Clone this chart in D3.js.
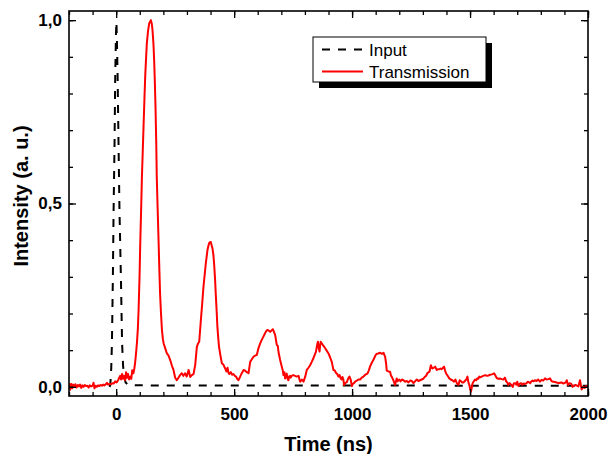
<!DOCTYPE html>
<html>
<head>
<meta charset="utf-8">
<script src="https://cdn.jsdelivr.net/npm/d3@7"></script>
<style>
  body { margin: 0; background: #fff; }
  svg { display: block; font-family: "Liberation Sans", Arial, sans-serif; }
</style>
</head>
<body>
<div id="chart"></div>
<script>
// Data -----------------------------------------------------------------------------------------------------------
const xMajorTicks = [0, 500, 1000, 1500, 2000];
const yMajorTicks = [0, 0.5, 1.0];
const yTickLabels = ["0,0", "0,5", "1,0"];
const seriesNames = ["Input", "Transmission"];

// [time (ns), intensity]
const inputPoints = [
  [-28, 0.0], [-25, 0.005], [-21, 0.05], [-18, 0.12], [-14, 0.30], [-11, 0.48], [-7, 0.66], [-4, 0.85],
  [-1, 0.96], [1, 0.995], [3, 0.95], [6, 0.85], [10, 0.66], [14, 0.48], [20, 0.30], [25, 0.12], [29, 0.06],
  [33, 0.03], [40, 0.012], [51, 0.005], [80, 0.004], [2000, 0.003]
];

const transmissionPoints = [
  [-198, 0.01], [-195, -0.008], [-190, 0.008], [-186, -0.004], [-182, 0.006], [-178, 0.0], [-173, 0.007],
  [-168, -0.002], [-163, 0.005], [-158, 0.001], [-153, 0.006], [-148, -0.003], [-143, 0.004], [-138, 0.0],
  [-133, 0.005], [-128, 0.002], [-122, 0.003], [-117, -0.002], [-112, 0.004], [-106, 0.001], [-100, 0.003],
  [-96, 0.011], [-92, -0.004], [-87, 0.003], [-82, 0.0], [-77, 0.004], [-72, 0.002], [-66, 0.005], [-60, 0.003],
  [-55, 0.006], [-50, 0.004], [-44, 0.007], [-39, 0.011], [-34, 0.006], [-28, 0.008], [-22, 0.007], [-16, 0.01],
  [-10, 0.009], [-4, 0.015], [2, 0.012], [8, 0.018], [14, 0.026], [17, 0.03], [21, 0.02], [25, 0.035], [29, 0.022],
  [33, 0.03], [38, 0.018], [42, 0.04], [46, 0.025], [50, 0.035], [55, 0.02], [60, 0.028], [64, 0.022], [68, 0.045],
  [73, 0.037], [77, 0.05], [80, 0.064], [84, 0.09], [88, 0.12], [92, 0.16], [95, 0.21], [99, 0.30], [102, 0.39],
  [106, 0.49], [109, 0.57], [113, 0.65], [116, 0.71], [120, 0.79], [123, 0.846], [127, 0.9], [130, 0.937],
  [135, 0.97], [140, 0.991], [147, 1.0], [151, 0.99], [154, 0.973], [158, 0.935], [161, 0.89], [164, 0.83],
  [167, 0.755], [170, 0.66], [172, 0.573], [176, 0.48], [180, 0.39], [183, 0.32], [186, 0.255], [190, 0.2],
  [194, 0.155], [198, 0.13], [201, 0.119], [208, 0.105], [215, 0.091], [222, 0.085], [229, 0.073], [236, 0.058],
  [243, 0.046], [250, 0.025], [257, 0.018], [264, 0.025], [271, 0.032], [278, 0.037], [285, 0.03], [292, 0.037],
  [299, 0.028], [307, 0.046], [314, 0.027], [321, 0.032], [328, 0.035], [335, 0.06], [342, 0.109], [347, 0.118],
  [352, 0.123], [359, 0.182], [365, 0.23], [370, 0.273], [375, 0.305], [380, 0.337], [387, 0.373], [391, 0.385],
  [395, 0.393], [401, 0.395], [405, 0.385], [408, 0.378], [412, 0.36], [415, 0.337], [419, 0.295], [422, 0.255],
  [426, 0.205], [429, 0.164], [433, 0.13], [436, 0.109], [442, 0.085], [448, 0.064], [455, 0.06], [462, 0.05],
  [467, 0.042], [472, 0.052], [476, 0.038], [480, 0.035], [486, 0.04], [492, 0.033], [497, 0.035], [503, 0.03],
  [508, 0.028], [513, 0.022], [518, 0.018], [525, 0.027], [533, 0.038], [540, 0.046], [547, 0.044], [554, 0.04],
  [561, 0.037], [568, 0.068], [575, 0.075], [582, 0.082], [589, 0.085], [596, 0.087], [603, 0.105], [610, 0.118],
  [617, 0.128], [624, 0.137], [631, 0.146], [636, 0.152], [641, 0.155], [647, 0.153], [653, 0.15], [659, 0.154],
  [664, 0.157], [669, 0.15], [674, 0.141], [678, 0.125], [681, 0.114], [685, 0.112], [688, 0.095], [695, 0.073],
  [702, 0.055], [706, 0.045], [709, 0.032], [713, 0.04], [716, 0.023], [720, 0.03], [723, 0.036], [726, 0.023],
  [730, 0.018], [733, 0.028], [737, 0.03], [740, 0.025], [744, 0.03], [751, 0.032], [758, 0.03], [765, 0.028],
  [773, 0.03], [777, 0.02], [780, 0.014], [787, 0.02], [794, 0.014], [801, 0.027], [808, 0.046], [815, 0.052],
  [822, 0.059], [829, 0.068], [836, 0.078], [842, 0.088], [847, 0.096], [852, 0.115], [855, 0.123], [859, 0.105],
  [862, 0.096], [865, 0.115], [867, 0.123], [872, 0.118], [876, 0.114], [881, 0.11], [886, 0.105], [893, 0.098],
  [900, 0.091], [907, 0.08], [914, 0.068], [918, 0.055], [921, 0.046], [926, 0.045], [932, 0.038], [937, 0.035],
  [942, 0.028], [947, 0.032], [952, 0.022], [956, 0.02], [959, 0.027], [963, 0.02], [966, 0.005], [970, 0.01],
  [977, 0.012], [984, 0.023], [989, 0.028], [994, 0.02], [999, 0.002], [1003, 0.008], [1008, 0.01], [1014, 0.015],
  [1020, 0.017], [1027, 0.02], [1034, 0.02], [1041, 0.025], [1048, 0.028], [1056, 0.033], [1065, 0.036],
  [1071, 0.045], [1076, 0.055], [1083, 0.065], [1090, 0.073], [1095, 0.08], [1100, 0.087], [1105, 0.09],
  [1111, 0.091], [1119, 0.093], [1126, 0.09], [1133, 0.093], [1140, 0.082], [1144, 0.065], [1147, 0.044],
  [1154, 0.042], [1161, 0.041], [1165, 0.03], [1168, 0.028], [1175, 0.018], [1182, 0.005], [1186, 0.015],
  [1189, 0.023], [1193, 0.015], [1196, 0.018], [1200, 0.02], [1205, 0.015], [1211, 0.02], [1218, 0.018],
  [1225, 0.014], [1232, 0.016], [1239, 0.012], [1246, 0.017], [1253, 0.016], [1260, 0.01], [1267, 0.015],
  [1274, 0.02], [1281, 0.016], [1288, 0.018], [1295, 0.02], [1302, 0.022], [1309, 0.028], [1314, 0.03],
  [1319, 0.037], [1324, 0.04], [1328, 0.041], [1334, 0.059], [1338, 0.052], [1341, 0.05], [1346, 0.052],
  [1352, 0.055], [1356, 0.05], [1359, 0.046], [1364, 0.048], [1370, 0.048], [1375, 0.05], [1380, 0.048],
  [1385, 0.052], [1390, 0.055], [1394, 0.045], [1398, 0.037], [1405, 0.03], [1412, 0.023], [1418, 0.02],
  [1425, 0.018], [1432, 0.014], [1438, 0.02], [1444, 0.01], [1451, 0.005], [1456, 0.018], [1462, 0.015],
  [1467, 0.012], [1472, 0.012], [1478, 0.016], [1484, 0.02], [1489, 0.028], [1493, 0.012], [1497, 0.005],
  [1500, -0.005], [1504, -0.013], [1508, 0.0], [1511, 0.01], [1516, 0.015], [1521, 0.02], [1526, 0.018],
  [1531, 0.023], [1535, 0.022], [1539, 0.028], [1544, 0.026], [1549, 0.028], [1556, 0.03], [1564, 0.032],
  [1571, 0.03], [1578, 0.031], [1585, 0.033], [1592, 0.034], [1597, 0.035], [1602, 0.037], [1608, 0.03],
  [1613, 0.024], [1620, 0.022], [1627, 0.023], [1634, 0.021], [1641, 0.02], [1648, 0.025], [1653, 0.015],
  [1658, 0.012], [1662, 0.005], [1668, 0.01], [1674, 0.006], [1681, 0.0], [1686, 0.01], [1691, 0.01],
  [1696, 0.006], [1700, 0.014], [1705, 0.002], [1710, 0.008], [1716, 0.01], [1721, 0.006], [1726, 0.009],
  [1733, 0.008], [1740, 0.01], [1745, 0.014], [1750, 0.012], [1755, 0.01], [1760, 0.015], [1765, 0.017],
  [1770, 0.015], [1775, 0.018], [1782, 0.016], [1789, 0.02], [1796, 0.014], [1803, 0.019], [1810, 0.017],
  [1818, 0.023], [1825, 0.02], [1832, 0.021], [1839, 0.023], [1846, 0.015], [1853, 0.014], [1860, 0.013],
  [1867, 0.012], [1874, 0.01], [1881, 0.011], [1888, 0.012], [1895, 0.009], [1902, 0.011], [1906, 0.012],
  [1910, 0.018], [1915, 0.005], [1922, 0.01], [1929, 0.008], [1935, 0.0], [1941, 0.003], [1947, 0.005],
  [1953, 0.003], [1959, 0.001], [1966, 0.018], [1973, -0.007], [1980, 0.0], [1986, -0.003], [1991, 0.002],
  [1996, 0.001], [2000, 0.002]
];

// Canvas ---------------------------------------------------------------------------------------------------------
const canvasWidth = 608;
const canvasHeight = 454;

const leftPadding = 69;
const rightPadding = 20;
const topPadding = 11;
const bottomPadding = 58;

const svg = d3.select("#chart")
  .append("svg")
  .attr("width", canvasWidth)
  .attr("height", canvasHeight);

const xScale = d3.scaleLinear()
  .domain([-200, 2000])
  .range([leftPadding, canvasWidth - rightPadding]);
const yScale = d3.scaleLinear()
  .domain([-0.025, 1.025])
  .range([canvasHeight - bottomPadding, topPadding]);

const plotLeft = leftPadding;
const plotRight = canvasWidth - rightPadding;
const plotTop = topPadding;
const plotBottom = canvasHeight - bottomPadding;

// Lines ----------------------------------------------------------------------------------------------------------
svg.append("clipPath")
  .attr("id", "plot-clip")
  .append("rect")
  .attr("x", plotLeft)
  .attr("y", plotTop)
  .attr("width", plotRight - plotLeft)
  .attr("height", plotBottom - plotTop);

const line = d3.line()
  .x(d => xScale(d[0]))
  .y(d => yScale(d[1]));

const linesGroup = svg.append("g").attr("clip-path", "url(#plot-clip)");

linesGroup.append("path")
  .datum(inputPoints)
  .attr("d", line)
  .attr("fill", "none")
  .attr("stroke", "#000")
  .attr("stroke-width", 2)
  .attr("stroke-dasharray", "8,8");

linesGroup.append("path")
  .datum(transmissionPoints)
  .attr("d", line)
  .attr("fill", "none")
  .attr("stroke", "#ff0000")
  .attr("stroke-width", 2)
  .attr("stroke-linejoin", "round");

// Axes -----------------------------------------------------------------------------------------------------------
const tickFontSize = 17;
const majorTick = 7;
const minorTick = 4;
const xMinorTicks = d3.range(-200, 2001, 100);
const yMinorTicks = d3.range(0, 1.01, 0.1);

function styleAxis(g) {
  g.select(".domain").remove();
  g.selectAll("line").attr("stroke", "#000").attr("stroke-width", 1.3);
  g.selectAll("text")
    .attr("fill", "#000")
    .style("font-size", tickFontSize + "px")
    .style("font-weight", "bold")
    .style("font-family", "'Liberation Sans', Arial, sans-serif");
}

// bottom
svg.append("g")
  .attr("transform", "translate(0," + plotBottom + ")")
  .call(d3.axisBottom(xScale).tickValues(xMinorTicks).tickSize(-minorTick).tickFormat(""))
  .call(styleAxis);
svg.append("g")
  .attr("transform", "translate(0," + plotBottom + ")")
  .call(d3.axisBottom(xScale).tickValues(xMajorTicks).tickSize(-majorTick).tickPadding(12).tickFormat(d3.format("d")))
  .call(styleAxis);

// top
svg.append("g")
  .attr("transform", "translate(0," + plotTop + ")")
  .call(d3.axisTop(xScale).tickValues(xMinorTicks).tickSize(-minorTick).tickFormat(""))
  .call(styleAxis);
svg.append("g")
  .attr("transform", "translate(0," + plotTop + ")")
  .call(d3.axisTop(xScale).tickValues(xMajorTicks).tickSize(-majorTick).tickFormat(""))
  .call(styleAxis);

// left
svg.append("g")
  .attr("transform", "translate(" + plotLeft + ",0)")
  .call(d3.axisLeft(yScale).tickValues(yMinorTicks).tickSize(-minorTick).tickFormat(""))
  .call(styleAxis);
svg.append("g")
  .attr("transform", "translate(" + plotLeft + ",0)")
  .call(d3.axisLeft(yScale).tickValues(yMajorTicks).tickSize(-majorTick).tickPadding(7)
    .tickFormat((d, i) => yTickLabels[i]))
  .call(styleAxis);

// right
svg.append("g")
  .attr("transform", "translate(" + plotRight + ",0)")
  .call(d3.axisRight(yScale).tickValues(yMinorTicks).tickSize(-minorTick).tickFormat(""))
  .call(styleAxis);
svg.append("g")
  .attr("transform", "translate(" + plotRight + ",0)")
  .call(d3.axisRight(yScale).tickValues(yMajorTicks).tickSize(-majorTick).tickFormat(""))
  .call(styleAxis);

// frame
svg.append("rect")
  .attr("x", plotLeft)
  .attr("y", plotTop)
  .attr("width", plotRight - plotLeft)
  .attr("height", plotBottom - plotTop)
  .attr("fill", "none")
  .attr("stroke", "#000")
  .attr("stroke-width", 1.6);

// Axis titles ----------------------------------------------------------------------------------------------------
const axisTitleFontSize = 20;

svg.append("text")
  .text("Time (ns)")
  .attr("x", (plotLeft + plotRight) / 2)
  .attr("y", 451)
  .style("text-anchor", "middle")
  .style("font-size", axisTitleFontSize + "px")
  .style("font-weight", "bold");

svg.append("text")
  .text("Intensity (a. u.)")
  .attr("transform", "translate(28,196) rotate(-90)")
  .style("text-anchor", "middle")
  .style("font-size", axisTitleFontSize + "px")
  .style("font-weight", "bold");

// Legend ---------------------------------------------------------------------------------------------------------
const legendX = 313;
const legendY = 37;
const legendWidth = 173;
const legendHeight = 45;
const shadowOffset = 6;

const legendGroup = svg.append("g");

legendGroup.append("rect")
  .attr("x", legendX + shadowOffset)
  .attr("y", legendY + shadowOffset)
  .attr("width", legendWidth)
  .attr("height", legendHeight)
  .attr("fill", "#000");

legendGroup.append("rect")
  .attr("x", legendX)
  .attr("y", legendY)
  .attr("width", legendWidth)
  .attr("height", legendHeight)
  .attr("fill", "#fff")
  .attr("stroke", "#000")
  .attr("stroke-width", 1);

const legendStyles = [
  { stroke: "#000", dash: "8,8" },
  { stroke: "#ff0000", dash: null }
];

seriesNames.forEach(function(name, i) {
  const rowY = legendY + 12.5 + i * 22;
  legendGroup.append("line")
    .attr("x1", legendX + 9)
    .attr("x2", legendX + 50)
    .attr("y1", rowY)
    .attr("y2", rowY)
    .attr("stroke", legendStyles[i].stroke)
    .attr("stroke-width", 2)
    .attr("stroke-dasharray", legendStyles[i].dash);
  legendGroup.append("text")
    .text(name)
    .attr("x", legendX + 56)
    .attr("y", rowY + 6)
    .style("font-size", "17px")
    .attr("fill", "#000");
});
</script>
</body>
</html>
